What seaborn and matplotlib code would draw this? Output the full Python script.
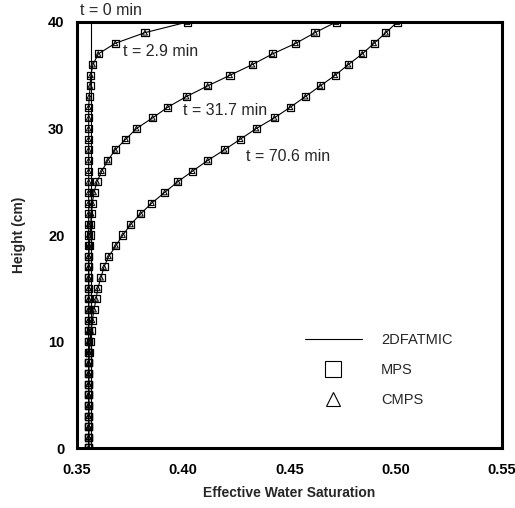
import numpy as np
import pandas as pd
import seaborn as sns
import matplotlib.pyplot as plt
from matplotlib.lines import Line2D

sns.set_theme(style="white")
plt.rcParams['font.family'] = ['Liberation Sans', 'DejaVu Sans']

## Heights (cm) where saturation was sampled
height = list(range(0, 41))

## Effective water saturation profiles
sat_t0 = [0.3565] * 41
sat_t2_9 = [0.3555, 0.3555, 0.3555, 0.3555, 0.3555, 0.3555, 0.3555, 0.3555, 0.3555, 0.3555,
            0.3555, 0.3555, 0.3555, 0.3555, 0.3555, 0.3555, 0.3555, 0.3555, 0.3555, 0.3555,
            0.3555, 0.3555, 0.3555, 0.3555, 0.3555, 0.3555, 0.3555, 0.3555, 0.3555, 0.3555,
            0.3555, 0.3555, 0.3555, 0.3558, 0.3562, 0.3565, 0.3575, 0.3600, 0.3680, 0.3820,
            0.4020]
sat_t31_7 = [0.3555, 0.3555, 0.3555, 0.3555, 0.3555, 0.3555, 0.3555, 0.3555, 0.3555, 0.3555,
             0.3555, 0.3555, 0.3555, 0.3555, 0.3555, 0.3555, 0.3555, 0.3555, 0.3555, 0.3558,
             0.3562, 0.3565, 0.3568, 0.3572, 0.3580, 0.3594, 0.3617, 0.3645, 0.3680, 0.3730,
             0.3780, 0.3856, 0.3927, 0.4015, 0.4115, 0.4220, 0.4325, 0.4420, 0.4530, 0.4620,
             0.4720]
sat_t70_6 = [0.3555, 0.3555, 0.3555, 0.3555, 0.3555, 0.3555, 0.3555, 0.3555, 0.3555, 0.3558,
             0.3562, 0.3566, 0.3572, 0.3580, 0.3590, 0.3598, 0.3613, 0.3627, 0.3650, 0.3683,
             0.3716, 0.3753, 0.3800, 0.3852, 0.3913, 0.3974, 0.4044, 0.4115, 0.4194, 0.4269,
             0.4344, 0.4429, 0.4504, 0.4575, 0.4645, 0.4715, 0.4777, 0.4842, 0.4898, 0.4954,
             0.5007]

curve_labels = ["t = 0 min", "t = 2.9 min", "t = 31.7 min", "t = 70.6 min"]
## label anchor points (saturation, height)
label_x = [0.3513, 0.3716, 0.3997, 0.4297]
label_y = [41.1, 37.2, 31.7, 27.4]

fig = plt.figure(figsize=(5.15, 5.08), dpi=100)
ax = fig.add_axes([0.1495, 0.1181, 0.8252, 0.8386])

## Model line (2DFATMIC) for each time
for sat in [sat_t0, sat_t2_9, sat_t31_7, sat_t70_6]:
    sns.lineplot(x=sat, y=height, sort=False, estimator=None, color='black', lw=0.8, ax=ax)

## MPS (squares) and CMPS (triangles) markers on the profiles
pts = pd.DataFrame({
    "sat": sat_t2_9 + sat_t31_7 + sat_t70_6,
    "h": height * 3,
})
sns.scatterplot(data=pts, x="sat", y="h", marker='s', s=26, facecolor='none',
                edgecolor='black', linewidth=0.9, ax=ax, zorder=3)
sns.scatterplot(data=pts, x="sat", y="h", marker='^', s=12, facecolor='none',
                edgecolor='black', linewidth=0.7, ax=ax, zorder=3)

for lab, lx, ly in zip(curve_labels, label_x, label_y):
    ax.text(lx, ly, lab, fontsize=11.5, va='center', ha='left', clip_on=False)

ax.set_xlim(0.35, 0.55)
ax.set_ylim(0, 40)
ax.set_xticks([0.35, 0.40, 0.45, 0.50, 0.55])
ax.set_xticklabels(["0.35", "0.40", "0.45", "0.50", "0.55"])
ax.set_yticks([0, 10, 20, 30, 40])
ax.tick_params(direction='in', length=6, width=1, colors='black', labelsize=10.5)
ax.tick_params(axis='x', pad=11)
ax.tick_params(axis='y', pad=9)
for t in ax.get_xticklabels() + ax.get_yticklabels():
    t.set_fontweight('bold')
for sp in ax.spines.values():
    sp.set_linewidth(2.2)
    sp.set_color('black')

ax.set_xlabel("Effective Water Saturation", fontsize=10, fontweight='bold', labelpad=6)
ax.set_ylabel("Height (cm)", fontsize=10, fontweight='bold', labelpad=16)

handles = [
    Line2D([], [], color='black', lw=0.8),
    Line2D([], [], color='black', marker='s', ls='none', markersize=12, mfc='none', mew=0.8),
    Line2D([], [], color='black', marker='^', ls='none', markersize=10, mfc='none', mew=0.8),
]
ax.legend(handles, ["2DFATMIC", "MPS", "CMPS"], loc='center', bbox_to_anchor=(0.71, 0.183),
          frameon=False, fontsize=10.5, handlelength=3.9, handletextpad=1.3,
          labelspacing=1.1)

fig.savefig("out.png", dpi=100)
